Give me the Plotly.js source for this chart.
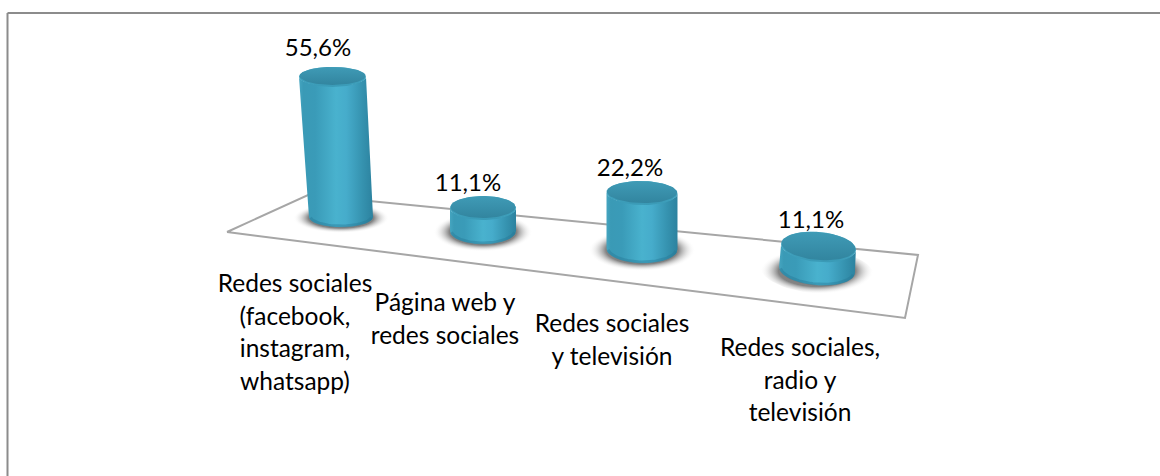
<!DOCTYPE html>
<html><head><meta charset="utf-8">
<script src="https://cdn.plot.ly/plotly-3.0.1.min.js"></script>
<style>html,body{margin:0;padding:0;background:#fff;overflow:hidden}</style></head>
<body><div id="chart" style="width:1160px;height:476px"></div>
<script>
// Data
const categories = ["Redes sociales\n(facebook,\ninstagram,\nwhatsapp)", "Página web y\nredes sociales", "Redes sociales\ny televisión", "Redes sociales,\nradio y\ntelevisión"];
const shares = [55.6, 11.1, 22.2, 11.1];

// Perspective of the 3-D scene (axis units = pixels)
const footX = [341, 483, 642, 817];
const footY = [217, 231, 249, 270];
const pxPerPercent = [2.52, 2.07, 2.52, 2.07];
const headShiftX = [-8.5, 0, 0, 1.5];
const radiusTop = [33.5, 33, 35.5, 37.5];
const radiusFoot = [32, 33, 35.5, 38];
const flatTop = [9, 11, 11, 14];
const flatFoot = [10, 13, 14, 15];
const tiltDeg = [0, 0, 1, 5];
const floorX = [227, 308, 918, 905, 227];
const floorY = [232, 195, 255, 318, 232];
const valueLabelX = [318, 468, 630, 811];
const valueLabelY = [50, 185, 170, 222];
const catLabelX = [295, 445, 612, 800];
const catLabelY = [286, 305, 326, 350];
const catLineStep = 32.6;
const fontFamily = "Lato, Carlito, Calibri, sans-serif";

function arc(cx, cy, rx, ry, tilt, a0, a1, n) {
  const xs = [], ys = [], t = tilt * Math.PI / 180;
  for (let k = 0; k <= n; k++) {
    const a = (a0 + (a1 - a0) * k / n) * Math.PI / 180;
    const ex = rx * Math.cos(a), ey = ry * Math.sin(a);
    xs.push(cx + ex * Math.cos(t) - ey * Math.sin(t));
    ys.push(cy + ex * Math.sin(t) + ey * Math.cos(t));
  }
  return [xs, ys];
}
function patch(pts, gradient) {
  return {type: 'scatter', mode: 'lines', x: pts[0], y: pts[1], fill: 'toself', line: {width: 0},
          fillgradient: gradient, hoverinfo: 'skip', showlegend: false};
}
const bodyScale = [[0, '#45a5c0'], [0.06, '#3a9ab6'], [0.22, '#3a9bb8'], [0.5, '#49b2ce'], [0.64, '#46accb'], [0.86, '#3592af'], [1, '#2c829f']];
const capScale = [[0, '#32859f'], [0.6, '#3a92ad'], [1, '#3f9bb6']];
const rimScale = [[0, '#3a9ab6'], [0.75, '#44a8c4'], [1, '#50b4ce']];
const shadowScale = [[0, 'rgba(95,95,95,0.95)'], [0.68, 'rgba(110,110,110,0.85)'], [1, 'rgba(255,255,255,0)']];

const traces = [];
traces.push({type: 'scatter', mode: 'lines', x: floorX, y: floorY, line: {color: '#a6a6a6', width: 2}, hoverinfo: 'skip', showlegend: false});

shares.forEach((v, i) => {
  const topX = footX[i] + headShiftX[i], topY = footY[i] - v * pxPerPercent[i];
  const tilt = tiltDeg[i];
  // shadow on the floor
  traces.push(patch(arc(footX[i], footY[i] + 1, radiusFoot[i] * 1.5, flatFoot[i] * 1.5, tilt, 0, 360, 72),
    {type: 'radial', colorscale: shadowScale}));
  // wall of the cylinder
  const front = arc(footX[i], footY[i], radiusFoot[i], flatFoot[i], tilt, 180, 0, 40);
  const back = arc(topX, topY, radiusTop[i], flatTop[i], tilt, 0, 180, 40);
  traces.push(patch([front[0].concat(back[0]), front[1].concat(back[1])], {type: 'horizontal', colorscale: bodyScale}));
  // darker lower bevel
  const foot = arc(footX[i], footY[i] - 1, radiusFoot[i] - 1, flatFoot[i], tilt, 170, 10, 40);
  traces.push({type: 'scatter', mode: 'lines', x: foot[0], y: foot[1], line: {color: 'rgba(38,118,148,0.4)', width: 3}, hoverinfo: 'skip', showlegend: false});
  // rim and top face
  traces.push(patch(arc(topX, topY, radiusTop[i], flatTop[i] + 1, tilt, 0, 360, 72), {type: 'vertical', colorscale: rimScale}));
  traces.push(patch(arc(topX, topY - 1, radiusTop[i] - 0.5, flatTop[i], tilt, 0, 360, 72), {type: 'vertical', colorscale: capScale}));
});

// value labels
traces.push({type: 'scatter', mode: 'text', x: valueLabelX, y: valueLabelY,
  text: shares.map(v => v.toFixed(1).replace('.', ',') + '%'), textposition: 'middle center',
  textfont: {family: fontFamily, size: 24, color: '#000'}, hoverinfo: 'skip', showlegend: false, cliponaxis: false});
// category labels, one point per line so the line step can match
const lx = [], ly = [], lt = [];
categories.forEach((c, i) => c.split('\n').forEach((line, j) => {
  lx.push(catLabelX[i]); ly.push(catLabelY[i] + j * catLineStep); lt.push(line);
}));
traces.push({type: 'scatter', mode: 'text', x: lx, y: ly, text: lt, textposition: 'middle center',
  textfont: {family: fontFamily, size: 24.5, color: '#000'}, hoverinfo: 'skip', showlegend: false, cliponaxis: false});

const layout = {
  width: 1160, height: 476, margin: {l: 0, r: 0, t: 0, b: 0},
  paper_bgcolor: '#fff', plot_bgcolor: '#fff', showlegend: false,
  xaxis: {range: [0, 1160], visible: false, fixedrange: true},
  yaxis: {range: [476, 0], visible: false, fixedrange: true},
  shapes: [{type: 'line', xref: 'paper', yref: 'paper', x0: 7.5 / 1160, x1: 1, y0: 1 - 13 / 476, y1: 1 - 13 / 476, line: {color: '#8c8c8c', width: 2}},
           {type: 'line', xref: 'paper', yref: 'paper', x0: 7.5 / 1160, x1: 7.5 / 1160, y0: 0, y1: 1 - 13 / 476, line: {color: '#8c8c8c', width: 2}}]
};
Plotly.newPlot('chart', traces, layout, {displayModeBar: false, staticPlot: true});
</script></body></html>
